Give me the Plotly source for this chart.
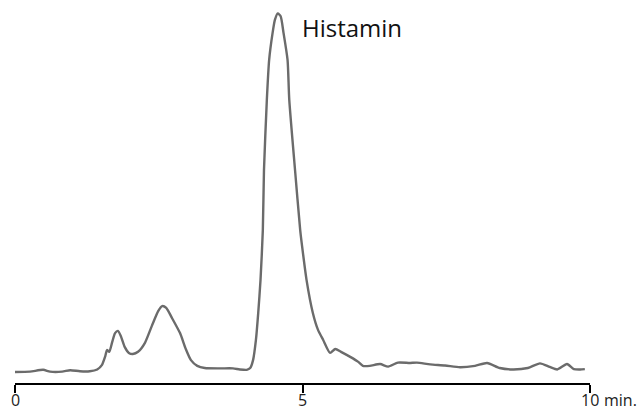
import plotly.graph_objects as go

time_min = [0.00, 0.26, 0.49, 0.61, 0.82, 0.96, 1.13, 1.30, 1.43, 1.51, 1.57, 1.60, 1.64, 1.69,
            1.74, 1.79, 1.84, 1.91, 1.98, 2.05, 2.14, 2.26, 2.38, 2.49, 2.56, 2.63, 2.73, 2.87,
            2.97, 3.06, 3.17, 3.30, 3.57, 3.79, 3.91, 4.03, 4.09, 4.14, 4.19, 4.23, 4.27, 4.31,
            4.33, 4.38, 4.42, 4.48, 4.52, 4.57, 4.62, 4.67, 4.74, 4.77, 4.87, 4.96, 4.99, 5.07,
            5.18, 5.27, 5.36, 5.48, 5.57, 5.67, 5.83, 5.97, 6.05, 6.17, 6.35, 6.49, 6.66, 6.87,
            6.99, 7.22, 7.48, 7.74, 8.00, 8.21, 8.43, 8.66, 8.92, 9.13, 9.30, 9.43, 9.60, 9.72,
            9.83, 9.91]
signal = [0.0, 0.1, 0.6, 0.1, 0.1, 0.5, 0.2, 0.2, 0.7, 1.9, 4.4, 6.1, 5.6, 8.3,
          10.8, 11.4, 10.0, 6.9, 5.3, 5.0, 5.6, 8.1, 12.8, 16.9, 18.3, 17.8, 15.0, 10.8,
          6.4, 3.3, 1.7, 1.1, 1.0, 1.0, 0.7, 0.6, 1.1, 3.3, 8.9, 16.4, 25.6, 39.4,
          56.1, 75.6, 86.7, 94.2, 97.8, 99.6, 98.8, 94.2, 86.7, 75.6, 56.1, 39.4, 35.3, 25.6,
          16.4, 11.7, 8.9, 5.3, 6.4, 5.6, 4.2, 2.8, 1.7, 1.7, 2.2, 1.5, 2.6, 2.5,
          2.6, 2.1, 1.8, 1.3, 1.7, 2.5, 1.1, 0.7, 1.1, 2.4, 1.4, 0.7, 2.2, 0.8,
          0.7, 0.8]

tick_vals = [0, 5, 10]
tick_text = ["0", "5", "10"]
peak_label = "Histamin"
unit_label = "min."

fig = go.Figure()
fig.add_trace(go.Scatter(
    x=time_min, y=signal, mode="lines",
    line=dict(color="#6b6b6b", width=2.4, shape="spline", smoothing=0.6),
    hoverinfo="skip", showlegend=False,
))

label_font = dict(size=16, family="Open Sans", color="#222222")
annotations = [
    dict(text=peak_label, xref="paper", yref="paper", x=(300 - 15) / 575,
         y=1 - (28 - 5) / 378, xanchor="left", yanchor="middle", showarrow=False,
         font=dict(size=24, family="Open Sans", color="#111111")),
    dict(text=unit_label, xref="x", yref="paper", x=10, y=0, xshift=13, yshift=-17,
         xanchor="left", yanchor="middle", showarrow=False, borderpad=0, font=label_font),
]
for v, t in zip(tick_vals, tick_text):
    annotations.append(dict(text=t, xref="x", yref="paper", x=v, y=0, yshift=-17,
                            xanchor="center", yanchor="middle", showarrow=False,
                            borderpad=0, font=label_font))

fig.update_layout(
    width=641, height=411,
    margin=dict(l=15, r=51, t=5, b=28),
    paper_bgcolor="white", plot_bgcolor="white",
    font=dict(family="Open Sans", color="#222222"),
    xaxis=dict(
        range=[0, 10], tickvals=tick_vals, showticklabels=False,
        showgrid=False, zeroline=False, automargin=False,
        showline=True, linecolor="black", linewidth=2,
        ticks="outside", ticklen=8, tickwidth=2, tickcolor="black",
    ),
    yaxis=dict(range=[-3.06, 101.94], visible=False, showgrid=False, zeroline=False,
               automargin=False),
    annotations=annotations,
)

fig.write_html("out.html")
